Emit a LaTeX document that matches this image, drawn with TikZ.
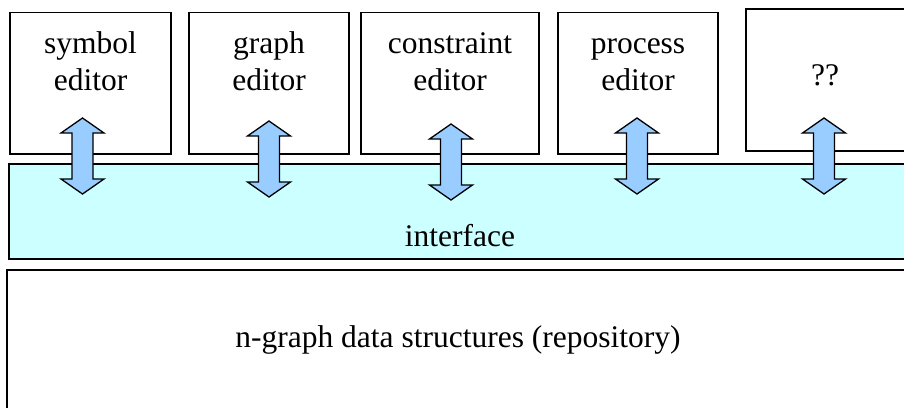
\documentclass[tikz,border=0pt]{standalone}
\usepackage{fontspec}
\IfFontExistsTF{LiberationSerif-Regular.ttf}{\setmainfont{LiberationSerif-Regular.ttf}}{\setmainfont{Liberation Serif}}
\definecolor{ifacefill}{HTML}{CCFFFF}
\definecolor{arrowfill}{HTML}{99CCFF}
\newcommand\twolines[2]{\begin{tabular}[t]{@{}c@{}}#1\\#2\end{tabular}}
\newcommand\dblarrow[2]{%
  \filldraw[arrowstyle] (#1,#2) -- ++(21.5,15) -- ++(-11,0) -- ++(0,46) -- ++(11,0)
    -- ++(-21.5,15) -- ++(-21.5,-15) -- ++(11,0) -- ++(0,-46) -- ++(-11,0) -- cycle;}
\begin{document}
\begin{tikzpicture}[x=1pt,y=-1pt,
  box/.style={draw=black,line width=1.3pt,fill=white},
  lbl/.style={font=\fontsize{31.5}{37}\selectfont,inner sep=0pt,anchor=base},
  arrowstyle/.style={draw=black,line width=1.3pt,fill=arrowfill,line join=miter}]
\useasboundingbox (0,0) rectangle (904,407);
\clip (0,0) rectangle (904,407);
% editor boxes
\draw[box] (10,12.5) rectangle (171,154);
\draw[box] (189,12.5) rectangle (349,154);
\draw[box] (361,12.5) rectangle (539,154);
\draw[box] (558,12.5) rectangle (718,154);
\draw[box] (746,9) rectangle (920,151);
\node[lbl] (symbol) at (90.5,53) {\twolines{symbol}{editor}};
\node[lbl] (graph) at (269,53) {\twolines{graph}{editor}};
\node[lbl] (constraint) at (450,53) {\twolines{constraint}{editor}};
\node[lbl] (process) at (638,53) {\twolines{process}{editor}};
\node[lbl] (unknown) at (825,85) {??};
% interface
\draw[box,fill=ifacefill] (9,164) rectangle (920,259);
\node[lbl] (interface) at (460,246) {interface};
% repository
\draw[box] (7,270) rectangle (920,420);
\node[lbl] (repo) at (458,347) {n-graph data structures (repository)};
% double arrows between editors and interface
\dblarrow{82.5}{118}
\dblarrow{269}{121}
\dblarrow{451}{124}
\dblarrow{637}{118}
\dblarrow{824}{118}
\end{tikzpicture}
\end{document}
